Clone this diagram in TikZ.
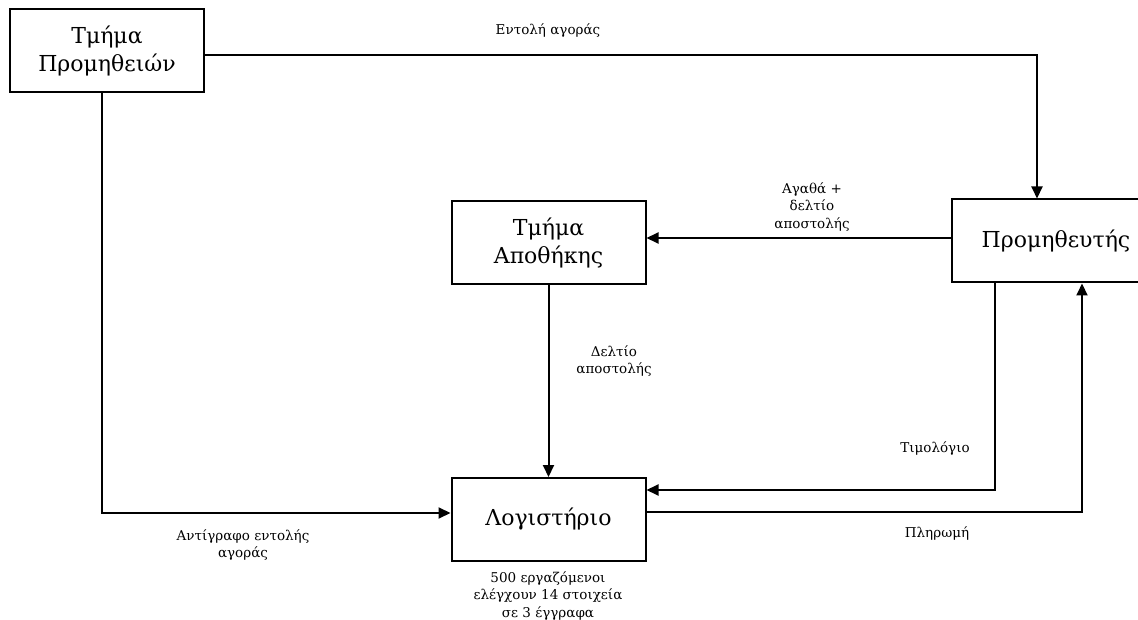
\documentclass[tikz,border=0pt]{standalone}
\usepackage{fontspec}
\setmainfont{DejaVu Serif}
\usetikzlibrary{arrows.meta}
\begin{document}
\begin{tikzpicture}[x=1pt,y=-1pt,
  unit/.style={draw, line width=2pt, minimum width=194pt, minimum height=83pt,
    align=center, font=\fontsize{22}{28}\selectfont, inner sep=0pt},
  flow/.style={line width=2pt, -{Triangle[length=12pt,width=11pt]}},
  lbl/.style={align=center, font=\fontsize{13.5}{17.5}\selectfont, inner sep=0pt}]
\useasboundingbox (0,0) rectangle (1138,620);
\clip (0,0) rectangle (1138,620);

% departments
\node[unit] (proc) at (107,51) {Τμήμα\\Προμηθειών};
\node[unit] (store) at (548.5,242.5) {Τμήμα\\Αποθήκης};
\node[unit, minimum width=208pt] (supp) at (1056,241) {Προμηθευτής};
\node[unit] (acct) at (548.5,519.5) {Λογιστήριο};

% routing corners
\coordinate (c1) at (1037,55);
\coordinate (c2) at (102,513);
\coordinate (c3) at (995,490);
\coordinate (c4) at (1082,512);

% purchase order
\draw[flow] (proc.east |- c1) -- (c1) -- (c1 |- supp.north);
\node[lbl] (l1) at (548,31) {Εντολή αγοράς};

% goods and delivery note
\draw[flow] (supp.west |- 0,238) -- (store.east |- 0,238);
\node[lbl] (l2) at (812,207) {Αγαθά +\\δελτίο\\αποστολής};

% delivery note to accounting
\draw[flow] (store.south) -- (acct.north);
\node[lbl] (l3) at (614,361) {Δελτίο\\αποστολής};

% copy of purchase order
\draw[flow] (proc.south -| c2) -- (c2) -- (acct.west |- c2);
\node[lbl] (l4) at (243,545) {Αντίγραφο εντολής\\αγοράς};

% invoice
\draw[flow] (supp.south -| c3) -- (c3) -- (acct.east |- c3);
\node[lbl] (l5) at (935,449) {Τιμολόγιο};

% payment
\draw[flow] (acct.east |- c4) -- (c4) -- (c4 |- supp.south);
\node[lbl] (l6) at (937,534) {Πληρωμή};

% note under accounting
\node[lbl] (l7) at (548,596) {500 εργαζόμενοι\\ελέγχουν 14 στοιχεία\\σε 3 έγγραφα};
\end{tikzpicture}
\end{document}
